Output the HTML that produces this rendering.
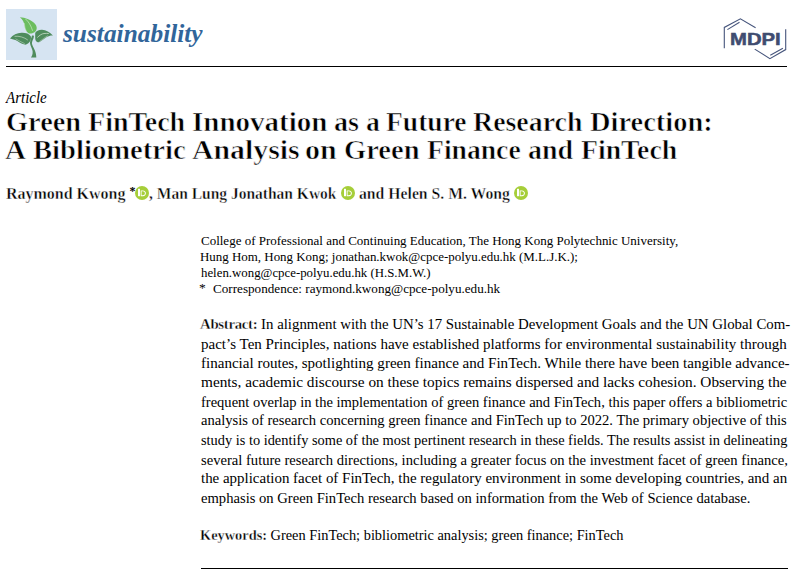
<!DOCTYPE html>
<html><head><meta charset="utf-8"><title>Green FinTech Innovation as a Future Research Direction</title>
<style>
html,body{margin:0;padding:0;background:#fff;}
body{width:807px;height:580px;position:relative;overflow:hidden;}
.ln{position:absolute;white-space:nowrap;line-height:normal;color:#000;transform-origin:0 0;}
.rule{position:absolute;height:1px;background:#000;}
.orcid{position:absolute;width:14px;height:14px;}
</style></head><body>
<!-- journal logo -->
<svg style="position:absolute;left:6px;top:9px" width="51" height="51" viewBox="0 0 51 51">
  <rect x="0" y="0" width="51" height="51" fill="#d6e4f2"/>
  <path d="M26 26.4 C25.5 28.5 24.2 31 24 33.6 C23.9 35.5 25.2 38 26.2 40.4 C27 42.5 26.9 46 25 48.6 L30.3 48.6 C30.3 46.5 29.8 43.5 28.9 41.4 C27.8 39 26.2 36.5 25.9 34.5 C25.8 32.5 27.4 30.5 27.9 27.8 C28 27 27.8 26.6 27.5 26.4 Z" fill="#4f8c5d"/>
  <path d="M13.9 8.3 C19 8.6 26 11 29.5 15.5 C31.5 18.5 31 21.5 28.5 23.2 C26.5 24.5 24 24.6 22.5 24.2 C20 22.5 19 20 18.6 17 C18.3 13.5 16.5 10.5 13.9 8.3 Z" fill="#6cbd5f"/>
  <path d="M19.5 10 C22.5 12.5 25 16.5 26.6 21.8" stroke="#dcefd8" stroke-width="0.6" fill="none"/>
  <path d="M18.4 14 C18.6 17 19 19.5 20.2 21.8" stroke="#cfe8c9" stroke-width="0.5" fill="none"/>
  <path d="M4 29.4 C7 26 11 24 15.5 23.8 C19.5 23.6 23 24.8 24.8 27.2 C25.5 29.5 24.6 32.5 22.3 34.3 C21 35.4 19.8 35.8 18.6 35.6 C15 34.8 12 32 9.3 30.9 C7.5 30.2 5.5 29.8 4 29.4 Z" fill="#4f8c5d"/>
  <path d="M8.5 27.3 C13 26.8 18 28.2 21.8 31" stroke="#d8e8d6" stroke-width="0.6" fill="none"/>
  <path d="M9.5 29.8 C12.5 31.2 15.5 33.4 18.8 34.7" stroke="#c9ddc8" stroke-width="0.5" fill="none"/>
  <path d="M29.2 24 C29.8 22 33 20.6 36 20.7 C40 20.9 44 23 46.9 26.4 C44.5 26.3 42.5 26.8 40.8 28 L34 32.8 C33 33.4 32 33.5 31.2 33 C29.6 32 29.2 30.5 29.2 28.5 Z" fill="#4f8c5d"/>
  <path d="M31.3 28.5 C33.5 26.5 35.5 24.8 38 24.5 C39.5 24.3 41.5 24.4 42.8 24.5" stroke="#d8e8d6" stroke-width="0.7" fill="none"/>
  <path d="M33.4 32.6 C36 30.8 39 28.5 41.7 26.6" stroke="#c9ddc8" stroke-width="0.5" fill="none"/>
</svg>
<!-- MDPI logo -->
<svg style="position:absolute;left:720px;top:14px" width="70" height="48" viewBox="0 0 70 48">
  <g stroke="#46557c" stroke-width="1.1" fill="none" stroke-linecap="butt">
    <polyline points="35.6,13.7 20.4,4.8 4.3,13.4 4.3,34.3"/>
    <line x1="7.4" y1="15.6" x2="19.5" y2="8.2"/>
    <polyline points="34.7,35.1 49.9,44.7 65.7,35.6 65.7,15.2"/>
    <line x1="50.3" y1="41.2" x2="62.9" y2="34.3"/>
  </g>
</svg>
<div class="rule" style="left:6px;top:66px;width:781px"></div>
<div class="rule" style="left:201px;top:568px;width:587px"></div>
<div class="ln" style="left:62.90px;top:19.80px;transform:scaleX(1.0356);font-family:'Liberation Serif', serif;font-style:italic;font-weight:bold;font-size:24.5px;color:#31659a;">sustainability</div>
<div class="ln" style="left:729.61px;top:30.10px;transform:scaleX(1.1927);font-family:'Liberation Sans',sans-serif;font-weight:bold;font-size:17px;color:#3f4c70;-webkit-text-stroke:0.5px #3f4c70;">MDPI</div>
<div class="ln" style="left:6.14px;top:88.60px;transform:scaleX(0.9356);font-family:'Liberation Serif', serif;font-style:italic;font-size:16px;">Article</div>
<div class="ln" style="left:6.39px;top:105.80px;transform:scaleX(1.0139);font-family:'Liberation Serif', serif;font-weight:bold;font-size:28px;-webkit-text-stroke:0.6px #fff;">Green</div>
<div class="ln" style="left:88.10px;top:105.80px;transform:scaleX(1.0021);font-family:'Liberation Serif', serif;font-weight:bold;font-size:28px;-webkit-text-stroke:0.6px #fff;">FinTech</div>
<div class="ln" style="left:191.76px;top:105.80px;transform:scaleX(1.0357);font-family:'Liberation Serif', serif;font-weight:bold;font-size:28px;-webkit-text-stroke:0.6px #fff;">Innovation</div>
<div class="ln" style="left:333.60px;top:105.80px;transform:scaleX(1.0043);font-family:'Liberation Serif', serif;font-weight:bold;font-size:28px;-webkit-text-stroke:0.6px #fff;">as</div>
<div class="ln" style="left:365.61px;top:105.80px;transform:scaleX(0.9917);font-family:'Liberation Serif', serif;font-weight:bold;font-size:28px;-webkit-text-stroke:0.6px #fff;">a</div>
<div class="ln" style="left:385.72px;top:105.80px;transform:scaleX(0.9837);font-family:'Liberation Serif', serif;font-weight:bold;font-size:28px;-webkit-text-stroke:0.6px #fff;">Future</div>
<div class="ln" style="left:473.30px;top:105.80px;transform:scaleX(0.9954);font-family:'Liberation Serif', serif;font-weight:bold;font-size:28px;-webkit-text-stroke:0.6px #fff;">Research</div>
<div class="ln" style="left:590.38px;top:105.80px;transform:scaleX(1.0162);font-family:'Liberation Serif', serif;font-weight:bold;font-size:28px;-webkit-text-stroke:0.6px #fff;">Direction:</div>
<div class="ln" style="left:4.56px;top:134.30px;transform:scaleX(1.0368);font-family:'Liberation Serif', serif;font-weight:bold;font-size:28px;-webkit-text-stroke:0.6px #fff;">A</div>
<div class="ln" style="left:33.18px;top:134.30px;transform:scaleX(1.0231);font-family:'Liberation Serif', serif;font-weight:bold;font-size:28px;-webkit-text-stroke:0.6px #fff;">Bibliometric</div>
<div class="ln" style="left:191.74px;top:134.30px;transform:scaleX(1.0646);font-family:'Liberation Serif', serif;font-weight:bold;font-size:28px;-webkit-text-stroke:0.6px #fff;">Analysis</div>
<div class="ln" style="left:305.43px;top:134.30px;transform:scaleX(1.0714);font-family:'Liberation Serif', serif;font-weight:bold;font-size:28px;-webkit-text-stroke:0.6px #fff;">on</div>
<div class="ln" style="left:344.18px;top:134.30px;transform:scaleX(1.0194);font-family:'Liberation Serif', serif;font-weight:bold;font-size:28px;-webkit-text-stroke:0.6px #fff;">Green</div>
<div class="ln" style="left:426.51px;top:134.30px;transform:scaleX(0.9871);font-family:'Liberation Serif', serif;font-weight:bold;font-size:28px;-webkit-text-stroke:0.6px #fff;">Finance</div>
<div class="ln" style="left:528.00px;top:134.30px;transform:scaleX(0.9977);font-family:'Liberation Serif', serif;font-weight:bold;font-size:28px;-webkit-text-stroke:0.6px #fff;">and</div>
<div class="ln" style="left:580.81px;top:134.30px;transform:scaleX(0.9916);font-family:'Liberation Serif', serif;font-weight:bold;font-size:28px;-webkit-text-stroke:0.6px #fff;">FinTech</div>
<div class="ln" style="left:5.90px;top:184.90px;transform:scaleX(1.0000);font-family:'Liberation Serif', serif;font-weight:bold;font-size:16px;-webkit-text-stroke:0.4px #fff;">Raymond Kwong <span style="position:relative;top:-0.3em;font-size:0.75em;-webkit-text-stroke:0">*</span></div>
<div class="ln" style="left:149.40px;top:184.90px;transform:scaleX(0.9694);font-family:'Liberation Serif', serif;font-weight:bold;font-size:16px;-webkit-text-stroke:0.4px #fff;">, Man Lung Jonathan Kwok</div>
<div class="ln" style="left:358.60px;top:184.90px;transform:scaleX(0.9831);font-family:'Liberation Serif', serif;font-weight:bold;font-size:16px;-webkit-text-stroke:0.4px #fff;">and Helen S. M. Wong</div>
<div class="ln" style="left:201.20px;top:233.70px;transform:scaleX(1.0823);font-family:'Liberation Serif', serif;font-size:12px;">College of Professional and Continuing Education, The Hong Kong Polytechnic University,</div>
<div class="ln" style="left:200.12px;top:249.80px;transform:scaleX(1.0777);font-family:'Liberation Serif', serif;font-size:12px;">Hung Hom, Hong Kong; jonathan.kwok@cpce-polyu.edu.hk (M.L.J.K.);</div>
<div class="ln" style="left:201.20px;top:265.50px;transform:scaleX(1.0701);font-family:'Liberation Serif', serif;font-size:12px;">helen.wong@cpce-polyu.edu.hk (H.S.M.W.)</div>
<div class="ln" style="left:198.96px;top:280.40px;transform:scaleX(1.0400);font-family:'Liberation Serif', serif;font-size:13px;">*</div>
<div class="ln" style="left:212.80px;top:281.80px;transform:scaleX(1.0947);font-family:'Liberation Serif', serif;font-size:12px;">Correspondence: raymond.kwong@cpce-polyu.edu.hk</div>
<div class="ln" style="left:199.70px;top:316.70px;transform:scaleX(1.0608);font-family:'Liberation Serif', serif;font-size:14px;"><b style="letter-spacing:-0.3px;-webkit-text-stroke:0.3px #fff">Abstract:</b> In alignment with the UN&rsquo;s 17 Sustainable Development Goals and the UN Global Com-</div>
<div class="ln" style="left:200.60px;top:336.60px;transform:scaleX(1.0733);font-family:'Liberation Serif', serif;font-size:14px;">pact&rsquo;s Ten Principles, nations have established platforms for environmental sustainability through</div>
<div class="ln" style="left:200.53px;top:355.70px;transform:scaleX(1.0748);font-family:'Liberation Serif', serif;font-size:14px;">financial routes, spotlighting green finance and FinTech. While there have been tangible advance-</div>
<div class="ln" style="left:200.50px;top:374.70px;transform:scaleX(1.0931);font-family:'Liberation Serif', serif;font-size:14px;">ments, academic discourse on these topics remains dispersed and lacks cohesion. Observing the</div>
<div class="ln" style="left:200.56px;top:394.60px;transform:scaleX(1.0371);font-family:'Liberation Serif', serif;font-size:14px;">frequent overlap in the implementation of green finance and FinTech, this paper offers a bibliometric</div>
<div class="ln" style="left:200.50px;top:413.40px;transform:scaleX(1.0427);font-family:'Liberation Serif', serif;font-size:14px;">analysis of research concerning green finance and FinTech up to 2022. The primary objective of this</div>
<div class="ln" style="left:200.50px;top:432.70px;transform:scaleX(1.0263);font-family:'Liberation Serif', serif;font-size:14px;">study is to identify some of the most pertinent research in these fields. The results assist in delineating</div>
<div class="ln" style="left:200.50px;top:452.60px;transform:scaleX(1.0427);font-family:'Liberation Serif', serif;font-size:14px;">several future research directions, including a greater focus on the investment facet of green finance,</div>
<div class="ln" style="left:200.50px;top:471.45px;transform:scaleX(1.0674);font-family:'Liberation Serif', serif;font-size:14px;">the application facet of FinTech, the regulatory environment in some developing countries, and an</div>
<div class="ln" style="left:200.50px;top:490.60px;transform:scaleX(1.0439);font-family:'Liberation Serif', serif;font-size:14px;">emphasis on Green FinTech research based on information from the Web of Science database.</div>
<div class="ln" style="left:199.97px;top:527.90px;transform:scaleX(1.0257);font-family:'Liberation Serif', serif;font-size:14px;"><b style="-webkit-text-stroke:0.3px #fff">Keywords:</b> Green FinTech; bibliometric analysis; green finance; FinTech</div>
<!-- ORCID icons -->
<svg class="orcid" style="left:135.4px;top:185.5px" viewBox="0 0 14 14"><circle cx="7" cy="7" r="7" fill="#a6ce39"/><rect x="3" y="2.8" width="2" height="7.4" fill="#fff"/><path fill-rule="evenodd" d="M5.7 4.4 H7.9 C9.9 4.4 10.9 5.8 10.9 7.3 C10.9 8.8 9.9 10.2 7.9 10.2 H5.7 Z M6.6 5.3 V9.3 H7.8 C9.2 9.3 9.9 8.3 9.9 7.3 C9.9 6.3 9.2 5.3 7.8 5.3 Z" fill="#fff"/></svg>
<svg class="orcid" style="left:341.0px;top:185.5px" viewBox="0 0 14 14"><circle cx="7" cy="7" r="7" fill="#a6ce39"/><rect x="3" y="2.8" width="2" height="7.4" fill="#fff"/><path fill-rule="evenodd" d="M5.7 4.4 H7.9 C9.9 4.4 10.9 5.8 10.9 7.3 C10.9 8.8 9.9 10.2 7.9 10.2 H5.7 Z M6.6 5.3 V9.3 H7.8 C9.2 9.3 9.9 8.3 9.9 7.3 C9.9 6.3 9.2 5.3 7.8 5.3 Z" fill="#fff"/></svg>
<svg class="orcid" style="left:514.4px;top:185.5px" viewBox="0 0 14 14"><circle cx="7" cy="7" r="7" fill="#a6ce39"/><rect x="3" y="2.8" width="2" height="7.4" fill="#fff"/><path fill-rule="evenodd" d="M5.7 4.4 H7.9 C9.9 4.4 10.9 5.8 10.9 7.3 C10.9 8.8 9.9 10.2 7.9 10.2 H5.7 Z M6.6 5.3 V9.3 H7.8 C9.2 9.3 9.9 8.3 9.9 7.3 C9.9 6.3 9.2 5.3 7.8 5.3 Z" fill="#fff"/></svg>
</body></html>
